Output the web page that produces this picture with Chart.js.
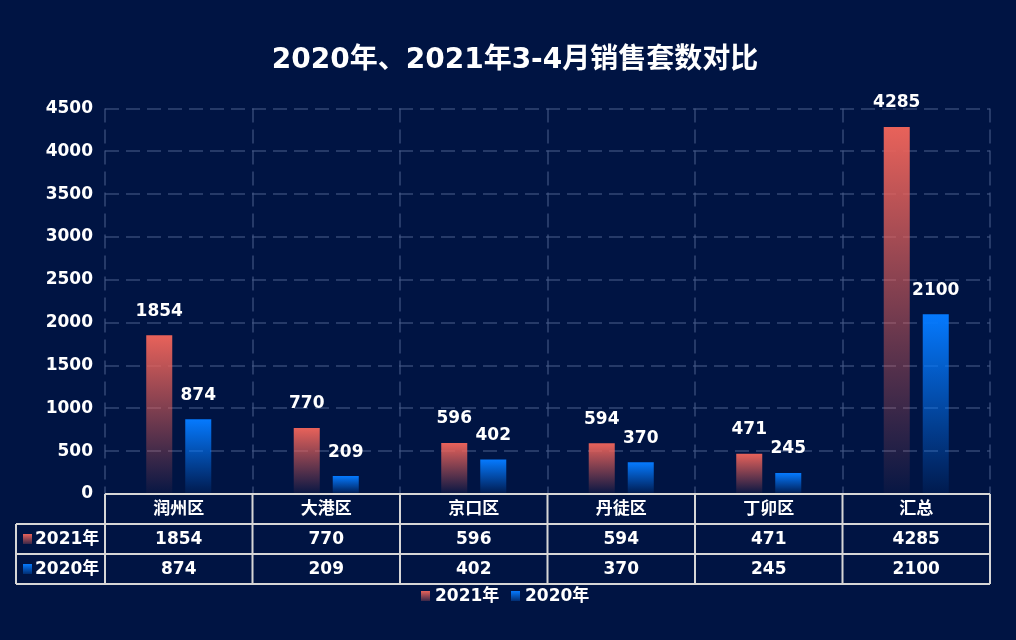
<!DOCTYPE html>
<html><head><meta charset="utf-8">
<script src="https://cdn.jsdelivr.net/npm/chart.js@4.4.1/dist/chart.umd.min.js"></script>
<style>html,body{margin:0;padding:0;background:#001443;}canvas{display:block;}</style>
</head><body>
<canvas id="c" width="1016" height="640"></canvas>
<script>
const categories = ['润州区','大港区','京口区','丹徒区','丁卯区','汇总'];
const seriesNames = ['2021年','2020年'];
const values2021 = [1854, 770, 596, 594, 471, 4285];
const values2020 = [874, 209, 402, 370, 245, 2100];
const yTicks = [0,500,1000,1500,2000,2500,3000,3500,4000,4500];

const FONT = '"DejaVu Sans", "Noto Sans CJK SC", sans-serif';
const colors = [
  {top:'rgba(232,98,90,1)', bot:'rgba(232,98,90,0.03)'},
  {top:'rgba(5,122,255,1)', bot:'rgba(5,122,255,0.06)'}
];

function barGrad(idx){
  return (ctx)=>{
    const chart = ctx.chart;
    if(!chart.chartArea || ctx.type !== 'data') return colors[idx].top;
    const ys = chart.scales.y;
    const v = ctx.parsed ? ctx.parsed.y : ctx.raw;
    const t = ys.getPixelForValue(v), b = ys.getPixelForValue(0);
    if(!isFinite(t) || !isFinite(b) || t===b) return colors[idx].top;
    const g = chart.ctx.createLinearGradient(0,t,0,b);
    g.addColorStop(0, colors[idx].top);
    g.addColorStop(1, colors[idx].bot);
    return g;
  };
}
function swatch(c, x, y, w, h, idx){
  const g = c.createLinearGradient(0,y,0,y+h);
  g.addColorStop(0, colors[idx].top);
  g.addColorStop(1, colors[idx].bot.replace(/[\d.]+\)$/, '0.25)'));
  c.fillStyle = g; c.fillRect(x,y,w,h);
}

const tablePlugin = {
  id:'tablePlugin',
  beforeDraw(chart){
    const c = chart.ctx;
    c.save(); c.fillStyle = '#001443'; c.fillRect(0,0,chart.width,chart.height); c.restore();
  },
  afterDatasetsDraw(chart){
    const c = chart.ctx;
    c.save();
    c.font = 'bold 17px ' + FONT;
    c.fillStyle = '#ffffff';
    c.textAlign = 'center'; c.textBaseline = 'middle';
    [values2021, values2020].forEach((arr, di)=>{
      const meta = chart.getDatasetMeta(di);
      meta.data.forEach((bar, i)=>{
        c.fillText(String(arr[i]), bar.x, bar.y - 24);
      });
    });
    c.restore();
  },
  afterDraw(chart){
    const c = chart.ctx;
    const xs = chart.scales.x, area = chart.chartArea;
    const top = Math.floor(area.bottom), rowH = 30;
    const left = 16;
    const n = categories.length;
    const bounds = [];
    const half = (xs.getPixelForValue(1) - xs.getPixelForValue(0))/2;
    for(let i=0;i<n;i++){
      const cx = xs.getPixelForValue(i);
      if(i===0) bounds.push(cx-half);
      bounds.push(cx+half);
    }
    c.save();
    c.strokeStyle = '#d6d6d6'; c.lineWidth = 2;
    c.beginPath();
    c.moveTo(area.left, top); c.lineTo(area.right, top);
    for(let r=1;r<=3;r++){ c.moveTo(left, top+rowH*r); c.lineTo(area.right, top+rowH*r); }
    bounds.forEach(b=>{ c.moveTo(b, top); c.lineTo(b, top+rowH*3); });
    c.moveTo(left, top+rowH); c.lineTo(left, top+rowH*3);
    c.stroke();
    c.font = 'bold 17px ' + FONT;
    c.textBaseline = 'middle';
    [values2021, values2020].forEach((arr, di)=>{
      const cy = top + rowH*(di+1) + rowH/2;
      swatch(c, 23, cy-5, 9, 10, di);
      c.fillStyle = '#ffffff';
      c.textAlign = 'left';
      c.fillText(seriesNames[di], 35, cy+1);
      c.textAlign = 'center';
      arr.forEach((v,i)=>{ c.fillText(String(v), xs.getPixelForValue(i), cy+1); });
    });
    const ly = 596;
    c.textAlign = 'left';
    let lx = 421;
    seriesNames.forEach((s, di)=>{
      swatch(c, lx, ly-5, 9, 10, di);
      c.fillStyle = '#ffffff';
      c.fillText(s, lx+14, ly+1);
      lx = 511;
    });
    c.restore();
  }
};

new Chart(document.getElementById('c'), {
  type:'bar',
  data:{
    labels: categories,
    datasets:[
      {label: seriesNames[0], data: values2021, backgroundColor: barGrad(0), categoryPercentage:0.529, barPercentage:0.667},
      {label: seriesNames[1], data: values2020, backgroundColor: barGrad(1), categoryPercentage:0.529, barPercentage:0.667}
    ]
  },
  options:{
    responsive:false, animation:false, devicePixelRatio:1,
    layout:{padding:{left:40, right:26, top:0, bottom:0}},
    plugins:{
      legend:{display:false}, tooltip:{enabled:false},
      title:{display:true, text:'2020年、2021年3-4月销售套数对比', color:'#ffffff',
        font:{family:FONT, size:28, weight:'bold', lineHeight:1.2}, padding:{top:44, bottom:31}}
    },
    scales:{
      x:{
        grid:{display:true, offset:true, color:'rgba(70,90,135,0.55)', lineWidth:2, drawTicks:false},
        border:{display:false, dash:[14,7]},
        ticks:{color:'#ffffff', font:{family:FONT, size:17, weight:'bold'}, padding:5},
        afterFit(s){ s.height = 146; }
      },
      y:{
        min:0, max:4500,
        afterBuildTicks(s){ s.ticks = yTicks.map(v=>({value:v})); },
        grid:{color:'rgba(70,90,135,0.55)', lineWidth:2, drawTicks:false},
        border:{display:false, dash:[14,7]},
        ticks:{color:'#ffffff', font:{family:FONT, size:17, weight:'bold'}, padding:12,
          callback:(v)=>String(v)},
        afterFit(s){ s.width = 65; }
      }
    }
  },
  plugins:[tablePlugin]
});
</script>
</body></html>
